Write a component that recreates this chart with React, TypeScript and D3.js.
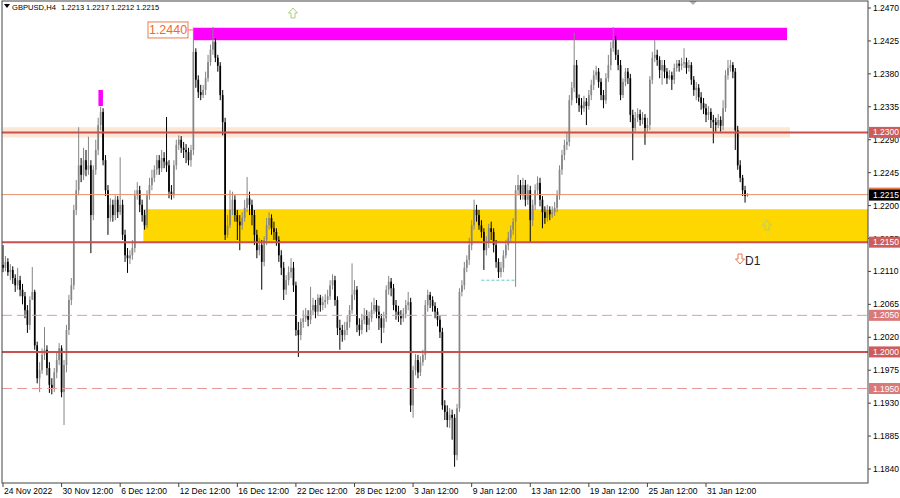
import React from "react";
import * as d3 from "d3";

// ---- data (GBPUSD H4) ----
const firstOpen = 1.2119;
const closes = [
1.2115,1.2123,1.2109,1.2112,1.2101,1.2091,1.2098,1.2085,1.2076,1.2057,
1.2037,1.2071,1.2082,1.2009,1.1964,1.1975,1.1996,1.2003,1.1978,1.1955,
1.1951,1.1972,1.1989,1.2005,1.1945,1.1982,1.2030,1.2071,1.2091,1.2194,
1.2221,1.2255,1.2242,1.2262,1.2249,1.2255,1.2187,1.2249,1.2276,1.2310,
1.2328,1.2262,1.2221,1.2183,1.2201,1.2187,1.2208,1.2191,1.2201,1.2160,
1.2132,1.2128,1.2132,1.2142,1.2214,1.2221,1.2201,1.2187,1.2173,1.2214,
1.2228,1.2238,1.2249,1.2262,1.2251,1.2265,1.2260,1.2255,1.2219,1.2214,
1.2255,1.2283,1.2290,1.2279,1.2276,1.2273,1.2262,1.2276,1.2410,1.2372,
1.2355,1.2351,1.2358,1.2374,1.2396,1.2413,1.2424,1.2402,1.2391,1.2351,
1.2314,1.2160,1.2173,1.2194,1.2208,1.2187,1.2178,1.2173,1.2183,1.2197,
1.2210,1.2201,1.2187,1.2160,1.2139,1.2146,1.2123,1.2153,1.2173,1.2183,
1.2169,1.2164,1.2153,1.2132,1.2115,1.2085,1.2098,1.2109,1.2115,1.2091,
1.2030,1.2023,1.2041,1.2046,1.2050,1.2044,1.2057,1.2064,1.2055,1.2074,
1.2064,1.2068,1.2071,1.2076,1.2091,1.2098,1.2071,1.2033,1.2030,1.2023,
1.2030,1.2041,1.2057,1.2078,1.2085,1.2037,1.2030,1.2044,1.2050,1.2037,
1.2046,1.2057,1.2064,1.2055,1.2046,1.2033,1.2046,1.2085,1.2096,1.2087,
1.2064,1.2055,1.2049,1.2046,1.2052,1.2064,1.2068,1.1927,1.1975,1.1989,
1.1972,1.1986,1.1996,1.2064,1.2078,1.2071,1.2063,1.2055,1.2044,1.2027,
1.1927,1.1918,1.1907,1.1914,1.1910,1.1859,1.1923,1.2082,1.2091,1.2115,
1.2126,1.2146,1.2173,1.2194,1.2187,1.2173,1.2164,1.2139,1.2150,1.2169,
1.2164,1.2146,1.2123,1.2109,1.2115,1.2132,1.2146,1.2156,1.2167,1.2178,
1.2221,1.2228,1.2214,1.2228,1.2208,1.2221,1.2180,1.2201,1.2221,1.2231,
1.2208,1.2191,1.2183,1.2194,1.2188,1.2191,1.2197,1.2214,1.2249,1.2269,
1.2283,1.2287,1.2344,1.2361,1.2392,1.2347,1.2337,1.2333,1.2342,1.2336,
1.2351,1.2365,1.2378,1.2383,1.2369,1.2351,1.2344,1.2374,1.2392,1.2415,
1.2426,1.2406,1.2392,1.2351,1.2369,1.2383,1.2374,1.2324,1.2306,1.2320,
1.2325,1.2317,1.2320,1.2306,1.2310,1.2372,1.2402,1.2406,1.2399,1.2385,
1.2392,1.2383,1.2374,1.2378,1.2372,1.2388,1.2394,1.2391,1.2394,1.2396,
1.2388,1.2392,1.2372,1.2358,1.2361,1.2348,1.2340,1.2333,1.2324,1.2328,
1.2317,1.2314,1.2310,1.2317,1.2309,1.2333,1.2378,1.2388,1.2392,1.2383,
1.2303,1.2255,1.2238,1.2221,1.2213,1.2215];
const highs = [
1.2146,1.2131,1.2128,1.2120,1.2117,1.2106,1.2115,1.2104,1.2093,1.2082,
1.2064,1.2076,1.2116,1.2085,1.2014,1.1986,1.2005,1.2034,1.2009,1.1986,
1.1964,1.1978,1.2000,1.2012,1.2009,1.1989,1.2037,1.2078,1.2101,1.2201,
1.2235,1.2307,1.2265,1.2279,1.2276,1.2294,1.2262,1.2255,1.2290,1.2320,
1.2335,1.2333,1.2269,1.2228,1.2210,1.2208,1.2214,1.2213,1.2266,1.2208,
1.2167,1.2142,1.2139,1.2153,1.2221,1.2232,1.2227,1.2208,1.2194,1.2221,
1.2238,1.2249,1.2255,1.2269,1.2269,1.2276,1.2273,1.2321,1.2262,1.2228,
1.2262,1.2290,1.2296,1.2295,1.2287,1.2284,1.2279,1.2283,1.2443,1.2415,
1.2378,1.2365,1.2365,1.2383,1.2406,1.2420,1.2444,1.2429,1.2406,1.2396,
1.2358,1.2320,1.2187,1.2221,1.2219,1.2214,1.2194,1.2187,1.2191,1.2208,
1.2239,1.2219,1.2208,1.2194,1.2167,1.2156,1.2153,1.2158,1.2183,1.2191,
1.2188,1.2178,1.2169,1.2158,1.2139,1.2123,1.2105,1.2117,1.2128,1.2123,
1.2096,1.2041,1.2046,1.2057,1.2060,1.2057,1.2089,1.2074,1.2071,1.2079,
1.2078,1.2076,1.2079,1.2085,1.2098,1.2106,1.2104,1.2076,1.2044,1.2037,
1.2041,1.2050,1.2064,1.2121,1.2098,1.2090,1.2046,1.2052,1.2060,1.2057,
1.2055,1.2068,1.2074,1.2071,1.2063,1.2052,1.2055,1.2091,1.2104,1.2101,
1.2093,1.2071,1.2063,1.2057,1.2060,1.2071,1.2082,1.2074,1.1981,1.1997,
1.1996,1.1994,1.2003,1.2071,1.2085,1.2082,1.2076,1.2068,1.2060,1.2049,
1.2033,1.1934,1.1927,1.1923,1.1921,1.1915,1.1929,1.2087,1.2098,1.2123,
1.2132,1.2156,1.2180,1.2208,1.2201,1.2194,1.2180,1.2169,1.2158,1.2175,
1.2178,1.2169,1.2153,1.2128,1.2123,1.2139,1.2153,1.2164,1.2173,1.2183,
1.2228,1.2242,1.2235,1.2238,1.2235,1.2229,1.2227,1.2208,1.2229,1.2240,
1.2238,1.2213,1.2199,1.2201,1.2199,1.2199,1.2205,1.2221,1.2255,1.2276,
1.2290,1.2299,1.2351,1.2369,1.2436,1.2399,1.2352,1.2347,1.2350,1.2347,
1.2358,1.2372,1.2385,1.2391,1.2388,1.2374,1.2358,1.2381,1.2406,1.2424,
1.2444,1.2432,1.2413,1.2399,1.2374,1.2388,1.2388,1.2380,1.2331,1.2328,
1.2333,1.2331,1.2328,1.2325,1.2320,1.2377,1.2410,1.2426,1.2413,1.2404,
1.2399,1.2399,1.2388,1.2385,1.2383,1.2394,1.2399,1.2399,1.2402,1.2415,
1.2402,1.2399,1.2396,1.2377,1.2369,1.2366,1.2355,1.2347,1.2339,1.2336,
1.2333,1.2324,1.2320,1.2325,1.2322,1.2344,1.2385,1.2399,1.2399,1.2396,
1.2388,1.2309,1.2262,1.2242,1.2227,1.2217];
const lows = [
1.2109,1.2110,1.2104,1.2098,1.2093,1.2082,1.2085,1.2076,1.2065,1.2046,
1.2026,1.2030,1.2074,1.2003,1.1957,1.1945,1.1970,1.1989,1.1968,1.1944,
1.1942,1.1945,1.1964,1.1982,1.1938,1.1900,1.1972,1.2023,1.2064,1.2085,
1.2187,1.2214,1.2232,1.2235,1.2240,1.2242,1.2135,1.2180,1.2242,1.2269,
1.2303,1.2255,1.2213,1.2160,1.2178,1.2178,1.2180,1.2183,1.2187,1.2153,
1.2123,1.2108,1.2120,1.2126,1.2136,1.2208,1.2191,1.2178,1.2167,1.2169,
1.2208,1.2221,1.2232,1.2242,1.2242,1.2246,1.2251,1.2246,1.2210,1.2208,
1.2210,1.2249,1.2276,1.2272,1.2265,1.2258,1.2255,1.2253,1.2269,1.2361,
1.2347,1.2344,1.2347,1.2351,1.2369,1.2391,1.2406,1.2396,1.2383,1.2344,
1.2296,1.2153,1.2156,1.2169,1.2187,1.2178,1.2153,1.2139,1.2167,1.2178,
1.2191,1.2187,1.2173,1.2146,1.2128,1.2132,1.2085,1.2117,1.2146,1.2167,
1.2160,1.2153,1.2145,1.2123,1.2105,1.2071,1.2078,1.2091,1.2101,1.2082,
1.2022,1.1993,1.2016,1.2033,1.2041,1.2035,1.2038,1.2050,1.2046,1.2049,
1.2055,1.2057,1.2060,1.2065,1.2071,1.2085,1.2063,1.2023,1.2003,1.2014,
1.2016,1.2023,1.2033,1.2052,1.2071,1.2027,1.2022,1.2024,1.2038,1.2027,
1.2030,1.2041,1.2052,1.2046,1.2030,1.2012,1.2026,1.2041,1.2078,1.2076,
1.2057,1.2044,1.2041,1.2037,1.2041,1.2046,1.2057,1.1918,1.1910,1.1968,
1.1964,1.1967,1.1981,1.1989,1.2055,1.2060,1.2055,1.2046,1.2035,1.2019,
1.1921,1.1907,1.1897,1.1896,1.1880,1.1843,1.1852,1.1918,1.2076,1.2085,
1.2109,1.2119,1.2139,1.2167,1.2178,1.2167,1.2156,1.2112,1.2132,1.2142,
1.2153,1.2136,1.2115,1.2101,1.2102,1.2109,1.2128,1.2139,1.2150,1.2160,
1.2089,1.2214,1.2208,1.2208,1.2199,1.2201,1.2150,1.2172,1.2194,1.2214,
1.2199,1.2169,1.2175,1.2178,1.2180,1.2183,1.2186,1.2191,1.2208,1.2242,
1.2262,1.2276,1.2281,1.2337,1.2355,1.2340,1.2328,1.2324,1.2328,1.2310,
1.2331,1.2344,1.2358,1.2372,1.2361,1.2344,1.2333,1.2339,1.2369,1.2385,
1.2410,1.2399,1.2385,1.2344,1.2347,1.2363,1.2366,1.2314,1.2262,1.2301,
1.2314,1.2309,1.2311,1.2283,1.2301,1.2303,1.2366,1.2396,1.2391,1.2374,
1.2365,1.2374,1.2366,1.2372,1.2358,1.2366,1.2383,1.2383,1.2385,1.2388,
1.2380,1.2383,1.2365,1.2350,1.2344,1.2342,1.2331,1.2325,1.2314,1.2317,
1.2306,1.2285,1.2301,1.2306,1.2301,1.2303,1.2328,1.2372,1.2383,1.2374,
1.2276,1.2249,1.2232,1.2213,1.2204,1.2212];

const timeLabels = ["24 Nov 2022","30 Nov 12:00","6 Dec 12:00","12 Dec 12:00","16 Dec 12:00","22 Dec 12:00","28 Dec 12:00","3 Jan 12:00","9 Jan 12:00","13 Jan 12:00","19 Jan 12:00","25 Jan 12:00","31 Jan 12:00"];
const barsPerLabel = 24;
const priceTicks = [1.2470,1.2425,1.2380,1.2335,1.2290,1.2245,1.2200,1.2155,1.2110,1.2065,1.2020,1.1975,1.1930,1.1885,1.1840];
const levelPrices = [1.2300, 1.2150, 1.2050, 1.2000, 1.1950];
const levelDashed = [false, false, true, false, true];
const headerTexts = ["GBPUSD,H4", "1.2213", "1.2217", "1.2212", "1.2215"];
const currentPrice = 1.2215;
const resistanceLevel = 1.2440;
const resistanceZone = [1.2443, 1.2426];
const pivotZone = [1.2307, 1.2293];
const supportZone = [1.2195, 1.2150];
const peakMarker = [1.2358, 1.2336];
const lowMarkPrice = 1.2098;

const FONT = "'Liberation Sans', Arial, sans-serif";

export default function App() {
  const L = 2, R = 868, T = 1, B = 483;
  const x = d3.scaleLinear().domain([0, 288]).range([3, 706]);
  const y = d3.scaleLinear().domain([1.1840, 1.2470]).range([469, 8]);
  const bw = 1.7;

  const candles = closes.map((c, i) => {
    const o = i === 0 ? firstOpen : closes[i - 1];
    const up = c >= o;
    const col = up ? "#858585" : "#000000";
    const cx = x(i);
    const yt = y(Math.max(o, c));
    const yb = y(Math.min(o, c));
    return (
      <g key={i}>
        <line x1={cx} x2={cx} y1={y(highs[i])} y2={y(lows[i])} stroke={col} strokeWidth={1} />
        <rect x={cx - bw / 2} y={yt} width={bw} height={Math.max(1, yb - yt)} fill={col} />
      </g>
    );
  });

  const upArrow = (cx: number, top: number, color: string) => {
    const p = [[0,0],[4.5,5],[2,5],[2,10],[-2,10],[-2,5],[-4.5,5]].map(([a,b]) => `${cx + a},${top + b}`).join(" ");
    return <polygon points={p} fill="none" stroke={color} strokeWidth={1} />;
  };
  const downArrow = (cx: number, top: number, color: string) => {
    const p = [[-2,0],[2,0],[2,5],[4.5,5],[0,10],[-4.5,5],[-2,5]].map(([a,b]) => `${cx + a},${top + b}`).join(" ");
    return <polygon points={p} fill="none" stroke={color} strokeWidth={1} />;
  };

  const headerX = [12, 61, 86, 111, 136];

  return (
    <svg width={900} height={498} style={{ position: "absolute", left: 0, top: 0, background: "#fff" }} fontFamily={FONT}>
      <rect x={0} y={0} width={900} height={498} fill="#ffffff" />
      <defs>
        <clipPath id="plot"><rect x={L} y={T} width={R - L} height={B - T} /></clipPath>
      </defs>
      <g clipPath="url(#plot)">
        {/* zones */}
        <rect x={3} y={y(pivotZone[0])} width={787} height={y(pivotZone[1]) - y(pivotZone[0])} fill="#fbe7d3" />
        <rect x={x(57.5)} y={y(supportZone[0])} width={R - x(57.5)} height={y(supportZone[1]) - y(supportZone[0])} fill="#ffd700" />
        <rect x={x(78)} y={y(resistanceZone[0])} width={787 - x(78)} height={y(resistanceZone[1]) - y(resistanceZone[0])} fill="#ff00ff" />
        <rect x={x(39.1)} y={y(peakMarker[0])} width={4.5} height={y(peakMarker[1]) - y(peakMarker[0])} fill="#ff00ff" />
        {/* candles */}
        {candles}
        {/* level lines */}
        {levelPrices.map((p, i) => (
          <line key={p} x1={L} x2={R} y1={y(p)} y2={y(p)}
            stroke={levelDashed[i] ? "#e39b9b" : "#c9504f"} strokeWidth={levelDashed[i] ? 1 : 2}
            strokeDasharray={levelDashed[i] ? "10,5" : undefined} />
        ))}
        <line x1={L} x2={R} y1={y(currentPrice)} y2={y(currentPrice)} stroke="#e8926c" strokeWidth={1} />
        <line x1={x(196)} x2={x(210)} y1={y(lowMarkPrice)} y2={y(lowMarkPrice)} stroke="#66c8c8" strokeWidth={1} strokeDasharray="3,2" />
        {/* resistance label connector */}
        <line x1={188} x2={x(78)} y1={y(resistanceLevel)} y2={y(resistanceLevel)} stroke="#f07a4a" strokeWidth={1} />
        {upArrow(293, 8, "#a9d07d")}
        {upArrow(767, 220, "#a9d07d")}
        {downArrow(740, 254, "#e8784a")}
        <text x={745} y={265} fontSize={12} fill="#222">D1</text>
        <polygon points="689,1 697,1 693,5" fill="#b0b0b0" />
      </g>
      <rect x={148} y={y(resistanceLevel) - 8} width={40} height={16} fill="#fff" stroke="#f07a4a" strokeWidth={1} />
      <text x={168} y={y(resistanceLevel) + 4.5} fontSize={12.5} fill="#f06a30" textAnchor="middle">{resistanceLevel.toFixed(4)}</text>

      {/* frame */}
      <rect x={L} y={T} width={R - L} height={B - T} fill="none" stroke="#444" strokeWidth={1} />

      {/* header */}
      <polygon points="4,4 10,4 7,8" fill="#000" />
      {headerTexts.map((t, i) => (
        <text key={i} x={headerX[i]} y={10} fontSize={7.6} fill="#000">{t}</text>
      ))}

      {/* price axis */}
      {priceTicks.map((p) => (
        <g key={p}>
          <line x1={R} x2={R + 3} y1={y(p)} y2={y(p)} stroke="#444" />
          <text x={873} y={y(p) + 3} fontSize={8.5} fill="#000">{p.toFixed(4)}</text>
        </g>
      ))}
      {levelPrices.map((p, i) => (
        <g key={"lb" + p}>
          <rect x={869} y={y(p) - 5.5} width={31} height={11} fill={levelDashed[i] ? "#d97a7a" : "#cd5c5c"} />
          <text x={873} y={y(p) + 3} fontSize={8.5} fill="#fff">{p.toFixed(4)}</text>
        </g>
      ))}
      <rect x={869} y={y(currentPrice) - 7} width={31} height={3} fill="#e8784a" />
      <rect x={869} y={y(currentPrice) - 5} width={31} height={11} fill="#000" />
      <text x={873} y={y(currentPrice) + 3.5} fontSize={8.5} fill="#fff">{currentPrice.toFixed(4)}</text>

      {/* time axis */}
      {timeLabels.map((t, k) => {
        const xx = x(k * barsPerLabel);
        return (
          <g key={t}>
            <line x1={xx} x2={xx} y1={B} y2={B + 4} stroke="#444" />
            <text x={xx + 1} y={494} fontSize={8.5} fill="#000">{t}</text>
          </g>
        );
      })}
    </svg>
  );
}
